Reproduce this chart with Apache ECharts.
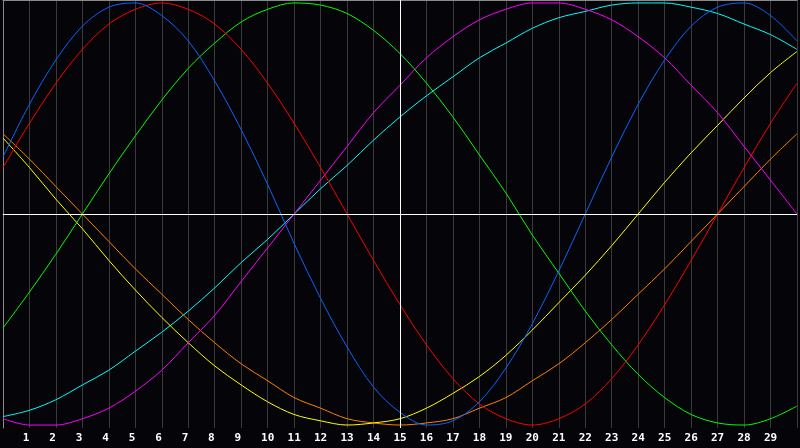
<!DOCTYPE html>
<html>
<head>
<meta charset="utf-8">
<script src="https://cdn.jsdelivr.net/npm/echarts@6/dist/echarts.min.js"></script>
<style>
  html, body { margin: 0; padding: 0; background: #050408; }
  #chart { width: 800px; height: 448px; }
</style>
</head>
<body>
<div id="chart"></div>
<script>
  // days 0..30, one value per day for each cycle
  var days = [0, 1, 2, 3, 4, 5, 6, 7, 8, 9, 10, 11, 12, 13, 14, 15, 16, 17, 18, 19, 20, 21, 22, 23, 24, 25, 26, 27, 28, 29, 30]
  var blueData = [0.27, 0.52, 0.73, 0.89, 0.98, 1.00, 0.94, 0.82, 0.63, 0.40, 0.14, -0.14, -0.40, -0.63, -0.82, -0.94, -1.00, -0.98, -0.89, -0.73, -0.52, -0.27, 0.00, 0.27, 0.52, 0.73, 0.89, 0.98, 1.00, 0.94, 0.82]
  var redData = [0.22, 0.43, 0.62, 0.78, 0.90, 0.97, 1.00, 0.97, 0.90, 0.78, 0.62, 0.43, 0.22, 0.00, -0.22, -0.43, -0.62, -0.78, -0.90, -0.97, -1.00, -0.97, -0.90, -0.78, -0.62, -0.43, -0.22, 0.00, 0.22, 0.43, 0.62]
  var greenData = [-0.54, -0.37, -0.19, 0.00, 0.19, 0.37, 0.54, 0.69, 0.81, 0.91, 0.97, 1.00, 0.99, 0.95, 0.87, 0.76, 0.62, 0.46, 0.28, 0.10, -0.10, -0.28, -0.46, -0.62, -0.76, -0.87, -0.95, -0.99, -1.00, -0.97, -0.91]
  var magentaData = [-0.97, -1.00, -1.00, -0.97, -0.92, -0.84, -0.74, -0.61, -0.48, -0.32, -0.16, 0.00, 0.16, 0.32, 0.48, 0.61, 0.74, 0.84, 0.92, 0.97, 1.00, 1.00, 0.97, 0.92, 0.84, 0.74, 0.61, 0.48, 0.32, 0.16, 0.00]
  var yellowData = [0.36, 0.22, 0.07, -0.07, -0.22, -0.36, -0.49, -0.61, -0.72, -0.81, -0.89, -0.95, -0.98, -1.00, -0.99, -0.97, -0.92, -0.85, -0.77, -0.67, -0.55, -0.42, -0.29, -0.15, 0.00, 0.15, 0.29, 0.42, 0.55, 0.67, 0.77]
  var orangeData = [0.38, 0.26, 0.13, 0.00, -0.13, -0.26, -0.38, -0.50, -0.61, -0.71, -0.79, -0.87, -0.92, -0.97, -0.99, -1.00, -0.99, -0.97, -0.92, -0.87, -0.79, -0.71, -0.61, -0.50, -0.38, -0.26, -0.13, 0.00, 0.13, 0.26, 0.38]
  var cyanData = [-0.96, -0.93, -0.88, -0.81, -0.74, -0.65, -0.56, -0.46, -0.35, -0.23, -0.12, 0.00, 0.12, 0.23, 0.35, 0.46, 0.56, 0.65, 0.74, 0.81, 0.88, 0.93, 0.96, 0.99, 1.00, 1.00, 0.98, 0.95, 0.90, 0.85, 0.78]
  var today = 15

  function pairs(values) {
    return values.map(function(v, i) { return [days[i], v] })
  }

  function line(name, color, values) {
    return {
      name: name,
      type: 'line',
      data: pairs(values),
      smooth: 0.33,
      symbol: 'none',
      silent: true,
      lineStyle: { color: color, width: 1 }
    }
  }

  var chart = echarts.init(document.getElementById('chart'))
  var series = [
    line('cyan', '#00ffff', cyanData),
    line('orange', '#ff8000', orangeData),
    line('yellow', '#ffff00', yellowData),
    line('magenta', '#ff00ff', magentaData),
    line('green', '#00ff00', greenData),
    line('red', '#ff0000', redData),
    line('blue', '#0a64ff', blueData)
  ]
  // white zero line and today marker
  series[0].markLine = {
    silent: true,
    symbol: 'none',
    label: { show: false },
    lineStyle: { color: '#ffffff', width: 1, type: 'solid' },
    data: [{ yAxis: 0 }, { xAxis: today }]
  }

  chart.setOption({
    backgroundColor: '#050408',
    animation: false,
    grid: { left: 0, right: 0, top: 0, bottom: 20 },
    xAxis: [{
      type: 'value',
      min: 0,
      max: 30,
      interval: 1,
      axisLine: { show: true, lineStyle: { color: '#8a8a8a', width: 1 } },
      axisTick: { show: false },
      axisLabel: {
        color: '#ffffff',
        fontFamily: 'DejaVu Sans Mono',
        fontWeight: 'bold',
        fontSize: 11,
        margin: 5,
        formatter: function(v) {
          if (v < 1 || v > 29) return ''
          return v < 10 ? v + ' ' : String(v)
        }
      },
      splitLine: { show: true, lineStyle: { color: '#3a3a3a', width: 1 } }
    }, {
      type: 'value',
      position: 'top',
      min: 0,
      max: 30,
      axisLine: { show: true, lineStyle: { color: '#8a8a8a', width: 1 } },
      axisTick: { show: false },
      axisLabel: { show: false },
      splitLine: { show: false }
    }],
    yAxis: {
      type: 'value',
      min: -1.014,
      max: 1.014,
      axisLine: { show: true, lineStyle: { color: '#8a8a8a', width: 1 } },
      axisTick: { show: false },
      axisLabel: { show: false },
      splitLine: { show: false }
    },
    series: series
  })
</script>
</body>
</html>
